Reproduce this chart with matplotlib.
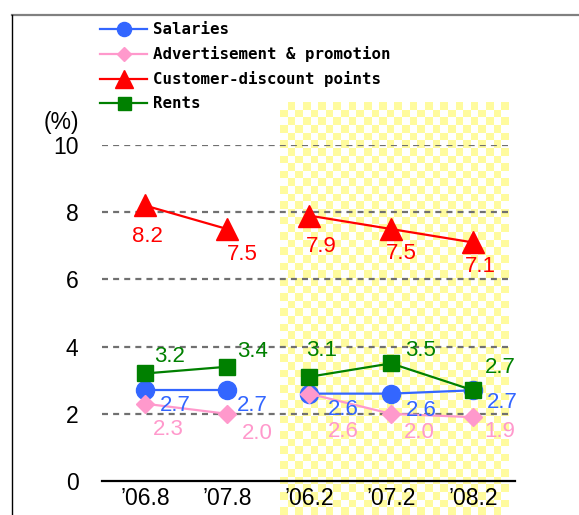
import numpy as np
import matplotlib
matplotlib.use("Agg")
import matplotlib.pyplot as plt
from matplotlib.lines import Line2D

# data
periods = ["\u201906.8", "\u201907.8", "\u201906.2", "\u201907.2", "\u201908.2"]
salaries = [2.7, 2.7, 2.6, 2.6, 2.7]
advert = [2.3, 2.0, 2.6, 2.0, 1.9]
discount = [8.2, 7.5, 7.9, 7.5, 7.1]
rents = [3.2, 3.4, 3.1, 3.5, 2.7]
yticks = [0, 2, 4, 6, 8, 10]

narrow = ["Liberation Sans Narrow", "Liberation Sans", "DejaVu Sans"]
plt.rcParams["font.family"] = narrow

fig = plt.figure(figsize=(5.79, 5.15), dpi=100)
W, H = 579, 515
ax = fig.add_axes([102 / W, 1 - 481 / H, 413 / W, 336 / H])

x = np.arange(len(periods))
segs = [slice(0, 2), slice(2, 5)]

# yellow checkered background (right group)
nr, nc = 54, 30
chk = (np.add.outer(np.arange(nr), np.arange(nc)) % 2).astype(float)
img = np.ones((nr, nc, 4))
yel = np.array([1.0, 0.985, 0.62, 1.0])
img[chk == 1] = yel
im = ax.imshow(img, extent=(1.646, 4.427, -1.01, 11.28), aspect="auto",
               interpolation="nearest", zorder=0)
im.set_clip_on(False)

# grid lines
for yv in yticks[1:]:
    ax.axhline(yv, xmin=0, xmax=0.988, color="#707070", lw=1.6,
               dashes=(2.7, 2.3), zorder=1)

series = [
    ("Salaries", salaries, "#3366ff", "o", 13, "#3366ff"),
    ("Advertisement & promotion", advert, "#ff99cc", "D", 9.3, "#ff99cc"),
    ("Customer-discount points", discount, "#ff0000", "^", 16, "#ff0000"),
    ("Rents", rents, "#008000", "s", 12, "#008000"),
]
handles = []
for name, vals, col, mk, ms, lc in series:
    vals = np.array(vals)
    for i, s in enumerate(segs):
        ln, = ax.plot(x[s], vals[s], color=col, lw=1.6, marker=mk, ms=ms,
                      mec=col, mfc=col, zorder=3, clip_on=False)
        if i == 0:
            handles.append((ln, name))

# value label offsets in pixels (dx right, dy down)
offs = {
    "Salaries": [(30, 15), (25, 15), (34, 16), (30, 17), (29, 12)],
    "Advertisement & promotion": [(23, 26), (30, 20), (34, 38), (28, 19), (27, 14)],
    "Customer-discount points": [(2, 31), (15, 26), (12, 31), (10, 25), (7, 24)],
    "Rents": [(25, -17), (26, -15), (13, -26), (30, -13), (27, -23)],
}
for name, vals, col, mk, ms, lc in series:
    for i, v in enumerate(vals):
        dx, dy = offs[name][i]
        ax.annotate(f"{v:.1f}", (x[i], v), xytext=(dx / 1.389, -dy / 1.389),
                    textcoords="offset points", ha="center", va="center",
                    fontsize=16, color=lc, zorder=5)

ax.set_xlim(-0.524, 4.512)
ax.set_ylim(0, 10)
ax.set_xticks(x)
ax.set_xticklabels(periods, fontsize=16.5)
ax.set_yticks(yticks)
ax.set_yticklabels([str(t) for t in yticks], fontsize=16.5)
ax.tick_params(axis="both", length=0)
ax.tick_params(axis="y", pad=17)
ax.tick_params(axis="x", pad=4)
for sp in ["left", "right", "top"]:
    ax.spines[sp].set_visible(False)
ax.spines["bottom"].set_linewidth(1.6)
ax.spines["bottom"].set_zorder(4)
ax.set_facecolor("none")

fig.text(61 / W, 1 - 122 / H, "(%)", ha="center", va="center", fontsize=16.5)

leg = fig.legend([h for h, _ in handles], [n for _, n in handles],
                 loc="upper left", bbox_to_anchor=(100 / W, 1 - 22 / H),
                 frameon=False, borderpad=0, borderaxespad=0,
                 handlelength=3.0, handletextpad=0.4, labelspacing=0.58,
                 markerscale=0.78,
                 prop={"family": "DejaVu Sans Mono", "weight": "bold", "size": 11.3})

# outer frame of the original figure
fig.add_artist(Line2D([12 / W, 1], [1 - 15 / H] * 2, color="#808080", lw=1.6,
                      transform=fig.transFigure))
fig.add_artist(Line2D([12 / W] * 2, [0, 1 - 15 / H], color="black", lw=1.0,
                      transform=fig.transFigure))

fig.savefig("out.png", dpi=100)
